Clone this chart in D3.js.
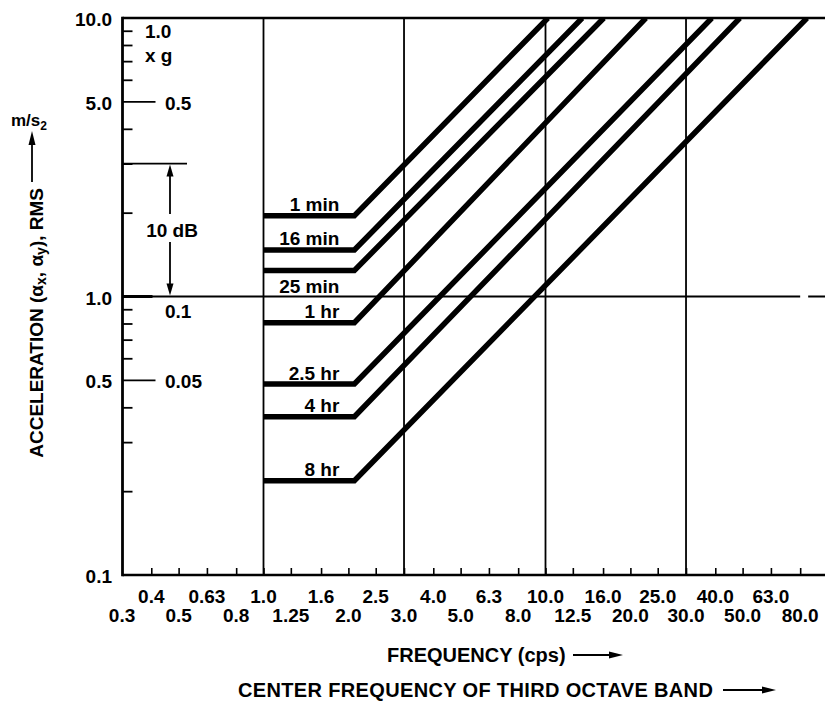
<!DOCTYPE html>
<html><head><meta charset="utf-8">
<script src="https://cdn.jsdelivr.net/npm/d3@7"></script>
<style>
body{margin:0;background:#fff;}
svg text{font-family:"Liberation Sans",Arial,Helvetica,sans-serif;fill:#000;font-weight:bold;}
</style></head><body>
<svg id="c" width="825" height="704"></svg>
<script>
// ---- data ----
const durations = ["1 min","16 min","25 min","1 hr","2.5 hr","4 hr","8 hr"];
const plateauValues = [1.95,1.47,1.24,0.805,0.485,0.37,0.218];   // m/s2 RMS, flat part
const plateauStart = 1.0;   // cps
const plateauEnd = 2.1;     // cps
const topFrequencies = [10.2,13.5,16.1,22.7,38.9,48.9,84.6];   // where each boundary reaches 10 m/s2
const ceilingValue = 10;
const labelBelow = [false,false,true,false,false,false,false];

const bandCenters = [0.315,0.4,0.5,0.63,0.8,1,1.25,1.6,2,2.5,3.15,4,5,6.3,8,10,12.5,16,20,25,31.5,40,50,63,80];
const bandLabels = ["0.3","0.4","0.5","0.63","0.8","1.0","1.25","1.6","2.0","2.5","3.0","4.0","5.0","6.3","8.0","10.0","12.5","16.0","20.0","25.0","30.0","40.0","50.0","63.0","80.0"];
const gridFrequencies = [1,3.15,10,31.5];

const yLabelValues = [10,5,1,0.5,0.1];
const yLabels = ["10.0","5.0","1.0","0.5","0.1"];
const gLabelValues = [5,1,0.5];
const gLabels = ["0.5","0.1","0.05"];
const minorYValues = [0.2,0.3,0.4,0.6,0.7,0.8,0.9,2,3,4,6,7,8,9];
const longTickValues = [5,0.5];
const tenDbTop = 3.0, tenDbBottom = 1.0;

// ---- scales ----
const svg = d3.select("#c");
const x = d3.scaleLog().domain([Math.sqrt(0.1),100]).range([122.5,827.5]);
const y = d3.scaleLog().domain([0.1,10]).range([575,18]);
const X0 = x(Math.sqrt(0.1)), XR = 825;

// clip
svg.append("defs").append("clipPath").attr("id","pc")
  .append("rect").attr("x",X0).attr("y",y(10)).attr("width",XR-X0).attr("height",y(0.1)-y(10));

// vertical grid lines
svg.selectAll("line.vg").data(gridFrequencies).join("line")
  .attr("x1",d=>x(d)).attr("x2",d=>x(d)).attr("y1",y(10)).attr("y2",y(0.1))
  .attr("stroke","#000").attr("stroke-width",1.8);

// 1.0 horizontal line (dashed end)
svg.append("line").attr("x1",X0).attr("x2",XR).attr("y1",y(1)).attr("y2",y(1))
  .attr("stroke","#000").attr("stroke-width",1.8)
  .attr("stroke-dasharray",`${x(80)-X0},8,30`);

// bottom axis ticks
const xAxis = d3.axisBottom(x).tickValues(bandCenters.slice(1)).tickSize(-7).tickFormat("");
const gx = svg.append("g").attr("transform",`translate(0,${y(0.1)})`).call(xAxis);
gx.select(".domain").remove();
gx.selectAll(".tick line").attr("stroke","#000").attr("stroke-width",1.6);

// left axis minor ticks
const yAxis = d3.axisLeft(y).tickValues(minorYValues).tickSize(-10).tickFormat("");
const gy = svg.append("g").attr("transform",`translate(${X0},0)`).call(yAxis);
gy.select(".domain").remove();
gy.selectAll(".tick line").attr("stroke","#000").attr("stroke-width",1.8);

// long ticks
svg.selectAll("line.lt").data(longTickValues).join("line")
  .attr("x1",X0).attr("x2",X0+33).attr("y1",d=>y(d)).attr("y2",d=>y(d))
  .attr("stroke","#000").attr("stroke-width",1.8);
svg.append("line").attr("x1",X0).attr("x2",X0+30).attr("y1",y(1)).attr("y2",y(1))
  .attr("stroke","#000").attr("stroke-width",3);

// frame: top, left, bottom
svg.append("line").attr("x1",X0).attr("x2",XR).attr("y1",y(10)).attr("y2",y(10)).attr("stroke","#000").attr("stroke-width",2.4);
svg.append("line").attr("x1",X0).attr("x2",XR).attr("y1",y(0.1)).attr("y2",y(0.1)).attr("stroke","#000").attr("stroke-width",2.4);
svg.append("line").attr("x1",X0).attr("x2",X0).attr("y1",y(10)-1.2).attr("y2",y(0.1)+1.2).attr("stroke","#000").attr("stroke-width",2.8);

// boundary curves
const line = d3.line().x(d=>x(d[0])).y(d=>y(d[1]));
const series = durations.map((n,i)=>({name:n, below:labelBelow[i], v:plateauValues[i],
  pts:[[plateauStart,plateauValues[i]],[plateauEnd,plateauValues[i]],[topFrequencies[i],ceilingValue]]}));
svg.append("g").attr("clip-path","url(#pc)").selectAll("path").data(series).join("path")
  .attr("d",d=>line(d.pts)).attr("fill","none").attr("stroke","#000")
  .attr("stroke-width",5.5).attr("stroke-linejoin","miter");

svg.selectAll("text.sl").data(series).join("text").attr("class","sl")
  .attr("x",x(plateauEnd)-15).attr("y",d=>d.below? y(d.v)+23 : y(d.v)-4.5)
  .attr("text-anchor","end").style("font-size","19px").text(d=>d.name);

// y tick labels
svg.selectAll("text.yl").data(yLabelValues).join("text").attr("class","yl")
  .attr("x",112).attr("y",d=>y(d)+8).attr("text-anchor","end").style("font-size","19px")
  .text((d,i)=>yLabels[i]);

// g labels
svg.append("text").attr("x",145).attr("y",y(10)+20).style("font-size","19px").text("1.0");
svg.append("text").attr("x",145).attr("y",y(10)+44).style("font-size","19px").text("x g");
svg.selectAll("text.gl").data(gLabelValues).join("text").attr("class","gl")
  .attr("x",165).attr("y",d=>d===1? y(d)+21 : y(d)+8).style("font-size","19px")
  .text((d,i)=>gLabels[i]);

// 10 dB marker
svg.append("line").attr("x1",X0).attr("x2",187).attr("y1",y(tenDbTop)).attr("y2",y(tenDbTop))
  .attr("stroke","#000").attr("stroke-width",1.8);
const ax = 170;
const midY = (y(tenDbTop)+y(tenDbBottom))/2;
svg.append("line").attr("x1",ax).attr("x2",ax).attr("y1",y(tenDbTop)+10).attr("y2",midY-16)
  .attr("stroke","#000").attr("stroke-width",1.8);
svg.append("line").attr("x1",ax).attr("x2",ax).attr("y1",midY+12).attr("y2",y(tenDbBottom)-10)
  .attr("stroke","#000").attr("stroke-width",1.8);
svg.append("path").attr("d",`M${ax},${y(tenDbTop)+1}L${ax-3.5},${y(tenDbTop)+13}L${ax+3.5},${y(tenDbTop)+13}Z`);
svg.append("path").attr("d",`M${ax},${y(tenDbBottom)-1}L${ax-3.5},${y(tenDbBottom)-13}L${ax+3.5},${y(tenDbBottom)-13}Z`);
svg.append("text").attr("x",ax+2).attr("y",midY+7).attr("text-anchor","middle").style("font-size","19px").text("10 dB");

// x tick labels (two rows)
svg.selectAll("text.xl").data(bandCenters).join("text").attr("class","xl")
  .attr("x",d=>x(d)).attr("y",(d,i)=> i%2===1 ? 603 : 622)
  .attr("text-anchor","middle").style("font-size","19px")
  .text((d,i)=>bandLabels[i]);

// x titles
svg.append("text").attr("x",387).attr("y",662).style("font-size","20px").text("FREQUENCY (cps)");
svg.append("line").attr("x1",573).attr("x2",612).attr("y1",655).attr("y2",655).attr("stroke","#000").attr("stroke-width",1.8);
svg.append("path").attr("d","M623,655L609,651.5L609,658.5Z");
svg.append("text").attr("x",238).attr("y",697).style("font-size","20px").style("letter-spacing","0.35px")
  .text("CENTER FREQUENCY OF THIRD OCTAVE BAND");
svg.append("line").attr("x1",723).attr("x2",764).attr("y1",690).attr("y2",690).attr("stroke","#000").attr("stroke-width",1.8);
svg.append("path").attr("d","M776,690L762,686.5L762,693.5Z");

// y title
const yt = svg.append("text").attr("transform","translate(43,188) rotate(-90)")
  .attr("text-anchor","end").style("font-size","19px");
yt.append("tspan").text("ACCELERATION (α");
yt.append("tspan").attr("dy",3).style("font-size","14px").text("x");
yt.append("tspan").attr("dy",-3).text(", α");
yt.append("tspan").attr("dy",3).style("font-size","14px").text("y");
yt.append("tspan").attr("dy",-3).text("), RMS");
svg.append("line").attr("x1",32).attr("x2",32).attr("y1",182).attr("y2",142).attr("stroke","#000").attr("stroke-width",1.8);
svg.append("path").attr("d","M32,131L28.5,145L35.5,145Z");
const mu = svg.append("text").attr("x",11).attr("y",126).style("font-size","17px");
mu.append("tspan").text("m/s");
mu.append("tspan").attr("dy",4).style("font-size","12px").text("2");
</script>
</body></html>
